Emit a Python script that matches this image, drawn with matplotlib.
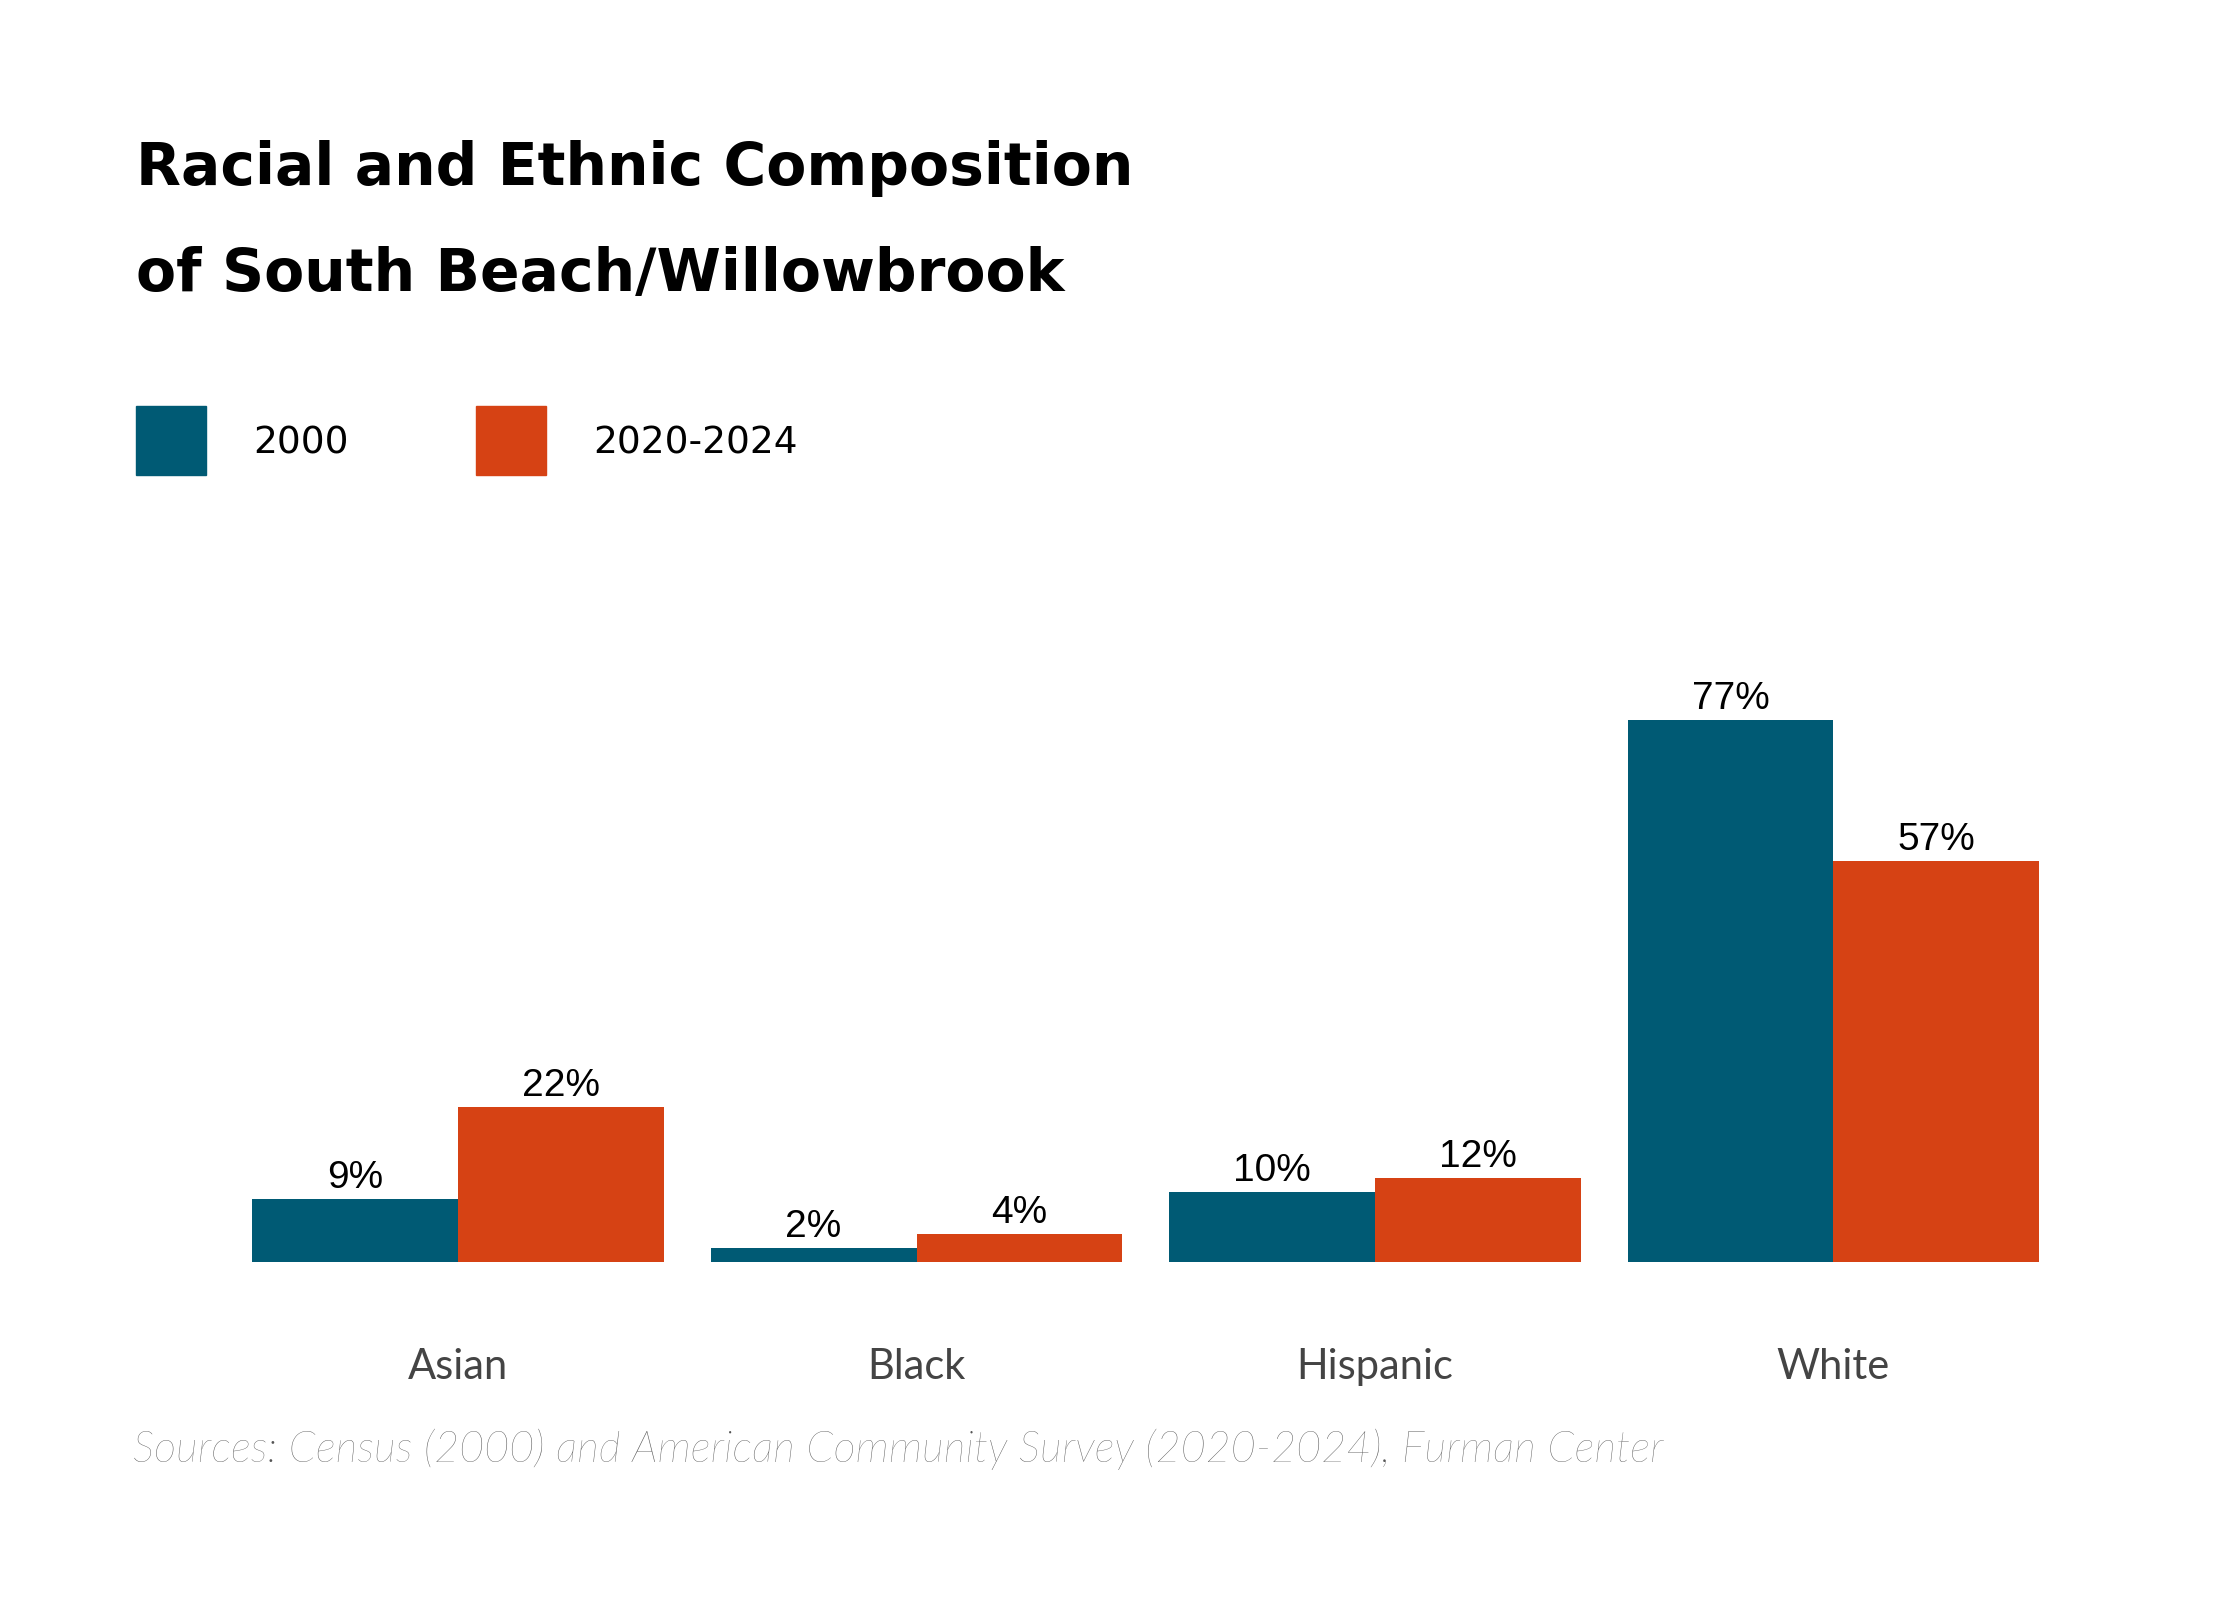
import matplotlib
matplotlib.use("Agg")
import matplotlib.pyplot as plt
import numpy as np

categories = ["Asian", "Black", "Hispanic", "White"]
series_names = ["2000", "2020-2024"]
vals_2000 = [9, 2, 10, 77]
vals_2020 = [22, 4, 12, 57]
colors = ["#005a74", "#d64214"]

W, H = 1566, 1118
fig = plt.figure(figsize=(22.4, 16), dpi=100)
ax = fig.add_axes([160/W, 1-882/H, 1282/W, 394/H])
x = np.arange(len(categories))
bw = 0.449
for i, (vals, c) in enumerate(zip([vals_2000, vals_2020], colors)):
    pos = x + (i - 0.5) * bw
    ax.bar(pos, vals, width=bw, color=c)
    for p, v in zip(pos, vals):
        ax.text(p, v + 0.4, f"{v}%", ha="center", va="bottom",
                fontsize=28, family="Liberation Sans", color="black")
ax.set_xlim(-0.5, 3.5)
ax.set_ylim(0, 80)
ax.axis("off")
for xi, cat in zip(x, categories):
    fig.text((160 + (xi + 0.5) * 320.5)/W, 1-955/H, cat, ha="center", va="center",
             fontsize=30, family="Lato", color="#444444")

fig.text(95/W, 1-118/H, "Racial and Ethnic Composition", fontsize=42, family="DejaVu Sans",
         weight="bold", va="center", ha="left")
fig.text(95/W, 1-192/H, "of South Beach/Willowbrook", fontsize=42, family="DejaVu Sans",
         weight="bold", va="center", ha="left")

for lx, tx, c, name in [(95, 177, colors[0], series_names[0]), (333, 415, colors[1], series_names[1])]:
    fig.patches.append(plt.Rectangle((lx/W, 1-332/H), 49/W, 48/H, transform=fig.transFigure,
                                     color=c))
    fig.text(tx/W, 1-310/H, name, fontsize=27, family="DejaVu Sans", va="center", ha="left")

fig.text(93/W, 1-1013/H, "Sources: Census (2000) and American Community Survey (2020-2024), Furman Center",
         fontsize=31, family="Lato", style="italic", weight="light", color="#555555",
         va="center", ha="left")

fig.savefig("out.png", dpi=100, facecolor="white")
